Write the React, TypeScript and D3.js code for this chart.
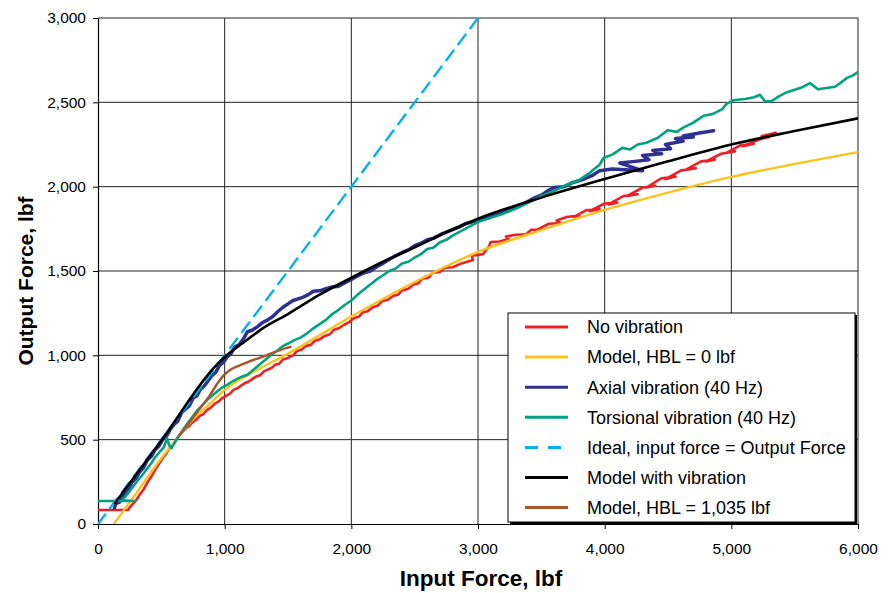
import React, { useEffect, useRef } from 'react';
import * as d3 from 'd3';

type Pt = [number, number];

// tick values
const xTicks = [0, 1000, 2000, 3000, 4000, 5000, 6000];
const yTicks = [0, 500, 1000, 1500, 2000, 2500, 3000];

const noVibration: Pt[] = [
  [0, 83], [237, 83], [250, 98], [270, 115], [300, 140], [330, 175], [360, 205], [385, 240], [420, 280],
  [450, 320], [480, 355], [510, 390], [540, 420], [570, 455], [600, 480], [630, 515], [660, 540], [690, 565],
  [720, 580], [740, 600], [770, 615], [800, 640], [830, 650], [860, 675], [890, 690], [920, 712], [950, 725],
  [980, 745], [1010, 760], [1040, 772], [1070, 795], [1100, 805], [1130, 820], [1160, 835], [1190, 845],
  [1220, 860], [1250, 875], [1280, 882], [1310, 905], [1340, 915], [1370, 925], [1400, 945], [1430, 950],
  [1460, 975], [1500, 985], [1540, 1000], [1570, 1025], [1610, 1035], [1640, 1055], [1680, 1062], [1710, 1085],
  [1750, 1095], [1790, 1115], [1830, 1125], [1860, 1150], [1900, 1160], [1940, 1180], [1980, 1195], [2020, 1220],
  [2060, 1230], [2090, 1255], [2130, 1262], [2170, 1285], [2210, 1295], [2240, 1320], [2290, 1330], [2330, 1352],
  [2370, 1360], [2400, 1385], [2450, 1395], [2490, 1420], [2530, 1428], [2560, 1455], [2610, 1460], [2640, 1490],
  [2700, 1495], [2740, 1520], [2800, 1522], [2870, 1545], [2960, 1565], [2950, 1590], [3040, 1600], [3090, 1650],
  [3100, 1672], [3170, 1675], [3240, 1690], [3220, 1705], [3300, 1715], [3380, 1718], [3420, 1745], [3500, 1748],
  [3460, 1742], [3560, 1780], [3650, 1785], [3620, 1800], [3700, 1820], [3800, 1830], [3760, 1822], [3860, 1862],
  [3960, 1868], [3880, 1855], [4000, 1900], [4100, 1905], [4030, 1895], [4150, 1945], [4260, 1955], [4180, 1945],
  [4300, 1995], [4400, 2005], [4330, 1995], [4450, 2050], [4560, 2060], [4480, 2045], [4600, 2095], [4720, 2110],
  [4640, 2100], [4760, 2150], [4870, 2160], [4800, 2150], [4920, 2195], [5030, 2210], [4960, 2200], [5070, 2245],
  [5180, 2255], [5090, 2240], [5220, 2280], [5300, 2295], [5240, 2300], [5350, 2320],
];

const modelHbl0: Pt[] = [
  [125, 0], [300, 180], [500, 390], [650, 530], [750, 620], [850, 690], [1000, 795], [1200, 890], [1500, 1010],
  [2000, 1230], [2500, 1435], [3000, 1613], [3500, 1742], [4000, 1862], [4500, 1965], [5000, 2058], [5500, 2135],
  [6000, 2205],
];

const axialVibration: Pt[] = [
  [130, 95], [140, 120], [170, 130], [200, 165], [240, 205], [270, 250], [300, 270], [330, 310], [360, 335],
  [390, 380], [420, 400], [450, 440], [480, 460], [510, 500], [540, 520], [570, 560], [600, 590], [630, 610],
  [660, 660], [690, 680], [720, 700], [750, 745], [780, 760], [810, 800], [840, 820], [870, 850], [900, 880],
  [930, 900], [960, 940], [990, 960], [1020, 990], [1050, 1010], [1080, 1050], [1110, 1060], [1150, 1100],
  [1180, 1140], [1220, 1150], [1260, 1170], [1300, 1195], [1340, 1210], [1380, 1230], [1420, 1260], [1460, 1285],
  [1500, 1305], [1540, 1325], [1580, 1335], [1620, 1345], [1660, 1360], [1700, 1380], [1760, 1385], [1800, 1395],
  [1850, 1405], [1900, 1410], [1950, 1430], [2000, 1450], [2050, 1470], [2100, 1490], [2150, 1500], [2200, 1525],
  [2250, 1545], [2300, 1570], [2350, 1590], [2400, 1610], [2450, 1625], [2500, 1650], [2550, 1665], [2600, 1685],
  [2650, 1695], [2700, 1715], [2750, 1730], [2800, 1745], [2850, 1760], [2900, 1780], [2950, 1790], [3000, 1800],
  [3050, 1815], [3100, 1830], [3150, 1840], [3200, 1855], [3250, 1870], [3300, 1880], [3350, 1895], [3400, 1915],
  [3450, 1935], [3500, 1950], [3550, 1975], [3600, 1995], [3680, 2000], [3750, 2025], [3820, 2040], [3900, 2065],
  [3960, 2095], [4060, 2105], [4160, 2100], [4300, 2095], [4120, 2140], [4240, 2150], [4350, 2160], [4300, 2185],
  [4450, 2195], [4380, 2215], [4520, 2225], [4480, 2250], [4620, 2270], [4560, 2285], [4700, 2295], [4620, 2300],
  [4760, 2320], [4860, 2332],
];

const torsionalVibration: Pt[] = [
  [0, 136], [290, 136], [190, 140], [230, 175], [270, 215], [310, 255], [350, 290], [380, 320], [420, 360],
  [450, 395], [490, 430], [520, 455], [545, 510], [560, 470], [580, 450], [620, 500], [660, 545], [700, 590],
  [740, 630], [780, 670], [820, 700], [860, 735], [900, 760], [940, 785], [980, 810], [1020, 825], [1060, 845],
  [1100, 860], [1140, 875], [1180, 885], [1220, 910], [1260, 935], [1300, 960], [1340, 985], [1380, 1010],
  [1420, 1030], [1460, 1055], [1500, 1070], [1550, 1090], [1600, 1105], [1650, 1130], [1700, 1160], [1750, 1185],
  [1800, 1210], [1850, 1245], [1900, 1270], [1950, 1300], [2000, 1325], [2050, 1360], [2100, 1390], [2150, 1420],
  [2200, 1450], [2250, 1475], [2300, 1500], [2350, 1515], [2400, 1545], [2450, 1555], [2500, 1580], [2550, 1600],
  [2600, 1630], [2650, 1640], [2700, 1670], [2750, 1685], [2800, 1710], [2850, 1730], [2900, 1750], [2950, 1770],
  [3000, 1790], [3100, 1815], [3200, 1840], [3300, 1870], [3400, 1905], [3500, 1945], [3600, 1975], [3700, 2010],
  [3800, 2040], [3880, 2080], [3910, 2100], [3960, 2130], [3990, 2170], [4060, 2190], [4140, 2230], [4200, 2220],
  [4260, 2250], [4330, 2260], [4420, 2290], [4500, 2335], [4570, 2325], [4620, 2350], [4700, 2380], [4780, 2420],
  [4850, 2430], [4930, 2460], [4960, 2490], [5013, 2512], [5108, 2520], [5180, 2530], [5226, 2545], [5266, 2505],
  [5320, 2508], [5368, 2532], [5423, 2555], [5500, 2575], [5560, 2590], [5621, 2614], [5684, 2578], [5750, 2585],
  [5818, 2592], [5870, 2620], [5913, 2645], [5960, 2660], [6000, 2680],
];

const ideal: Pt[] = [[0, 0], [3000, 3000]];

const modelVibration: Pt[] = [
  [135, 125], [500, 495], [920, 930], [1000, 990], [1100, 1050], [1200, 1105], [1300, 1160], [1500, 1245],
  [1750, 1360], [2000, 1460], [2250, 1555], [2500, 1640], [2750, 1730], [3000, 1810], [3500, 1935], [4000, 2045],
  [4500, 2150], [5000, 2250], [5500, 2330], [6000, 2405],
];

const modelHbl1035: Pt[] = [
  [640, 525], [700, 580], [760, 640], [820, 700], [880, 760], [940, 830], [990, 880], [1040, 912], [1100, 935],
  [1200, 965], [1330, 1000], [1430, 1030], [1520, 1050],
];

const series = [
  { name: 'No vibration', data: noVibration, color: '#ED2124', width: 2.6, smooth: false, dash: null },
  { name: 'Model, HBL = 0 lbf', data: modelHbl0, color: '#FDC218', width: 2.4, smooth: true, dash: null },
  { name: 'Axial vibration (40 Hz)', data: axialVibration, color: '#2E3192', width: 3.5, smooth: false, dash: null },
  { name: 'Torsional vibration (40 Hz)', data: torsionalVibration, color: '#00A37E', width: 2.6, smooth: false, dash: null },
  { name: 'Ideal, input force = Output Force', data: ideal, color: '#00B4EB', width: 2.4, smooth: false, dash: '12,8' },
  { name: 'Model with vibration', data: modelVibration, color: '#000000', width: 2.6, smooth: true, dash: null },
  { name: 'Model, HBL = 1,035 lbf', data: modelHbl1035, color: '#A5562A', width: 2.4, smooth: true, dash: null },
];

const W = 888;
const H = 593;
const margin = { top: 18, right: 30, bottom: 69, left: 98 };
const font = '"Liberation Sans", Arial, sans-serif';

const App = () => {
  const svgRef = useRef<SVGSVGElement>(null);

  useEffect(() => {
    const svg = d3.select(svgRef.current);
    svg.selectAll('*').remove();

    const x = d3.scaleLinear().domain([0, 6000]).range([margin.left, W - margin.right]);
    const y = d3.scaleLinear().domain([0, 3000]).range([H - margin.bottom, margin.top]);
    const fmt = d3.format(',');

    svg.append('rect').attr('width', W).attr('height', H).attr('fill', '#fff');

    // grid
    svg.append('g')
      .selectAll('line')
      .data(xTicks.slice(1))
      .enter()
      .append('line')
      .attr('x1', d => x(d)).attr('x2', d => x(d))
      .attr('y1', y(0)).attr('y2', y(3000))
      .attr('stroke', '#222').attr('stroke-width', 1);
    svg.append('g')
      .selectAll('line')
      .data(yTicks.slice(1))
      .enter()
      .append('line')
      .attr('x1', x(0)).attr('x2', x(6000))
      .attr('y1', d => y(d)).attr('y2', d => y(d))
      .attr('stroke', '#222').attr('stroke-width', 1);

    // axes
    const xAxis = svg.append('g')
      .attr('transform', `translate(0,${y(0)})`)
      .call(d3.axisBottom(x).tickValues(xTicks).tickFormat(d => fmt(d as number)).tickSizeInner(5).tickSizeOuter(0).tickPadding(14));
    const yAxis = svg.append('g')
      .attr('transform', `translate(${x(0)},0)`)
      .call(d3.axisLeft(y).tickValues(yTicks).tickFormat(d => fmt(d as number)).tickSizeInner(5).tickSizeOuter(0).tickPadding(7));
    [xAxis, yAxis].forEach(g => {
      g.selectAll('path').attr('stroke', '#000').attr('stroke-width', 1.2);
      g.selectAll('line').attr('stroke', '#000');
      g.selectAll('text').attr('font-family', font).attr('font-size', 15.5).attr('fill', '#000');
    });

    svg.append('defs').append('clipPath').attr('id', 'plot-clip')
      .append('rect')
      .attr('x', x(0)).attr('y', y(3000))
      .attr('width', x(6000) - x(0)).attr('height', y(0) - y(3000));

    const plot = svg.append('g').attr('clip-path', 'url(#plot-clip)');
    series.forEach(s => {
      const line = d3.line<Pt>()
        .x(d => x(d[0]))
        .y(d => y(d[1]))
        .curve(s.smooth ? d3.curveMonotoneX : d3.curveLinear);
      plot.append('path')
        .attr('d', line(s.data))
        .attr('fill', 'none')
        .attr('stroke', s.color)
        .attr('stroke-width', s.width)
        .attr('stroke-linejoin', 'round')
        .attr('stroke-linecap', 'round')
        .attr('stroke-dasharray', s.dash);
    });

    // legend
    const lg = svg.append('g').attr('transform', 'translate(508,313)');
    lg.append('rect').attr('x', 2).attr('y', 2).attr('width', 347).attr('height', 209).attr('fill', '#000');
    lg.append('rect').attr('width', 347).attr('height', 209).attr('fill', '#fff').attr('stroke', '#000').attr('stroke-width', 1);
    series.forEach((s, i) => {
      const cy = 14 + i * 30.1;
      lg.append('line')
        .attr('x1', 17).attr('x2', 60).attr('y1', cy).attr('y2', cy)
        .attr('stroke', s.color).attr('stroke-width', 3)
        .attr('stroke-dasharray', s.dash ? '13,10' : null);
      lg.append('text')
        .attr('x', 79).attr('y', cy).attr('dy', '0.35em')
        .attr('font-family', font).attr('font-size', 18)
        .text(s.name);
    });

    // axis titles
    svg.append('text')
      .attr('x', 481).attr('y', 586)
      .attr('text-anchor', 'middle')
      .attr('font-family', font).attr('font-weight', 'bold').attr('font-size', 22.5)
      .text('Input Force, lbf');
    svg.append('text')
      .attr('transform', 'translate(33,281) rotate(-90)')
      .attr('text-anchor', 'middle')
      .attr('font-family', font).attr('font-weight', 'bold').attr('font-size', 21)
      .text('Output Force, lbf');
  }, []);

  return (
    <svg ref={svgRef} width={W} height={H} style={{ position: 'absolute', left: 0, top: 0 }}></svg>
  );
};

export default App;
